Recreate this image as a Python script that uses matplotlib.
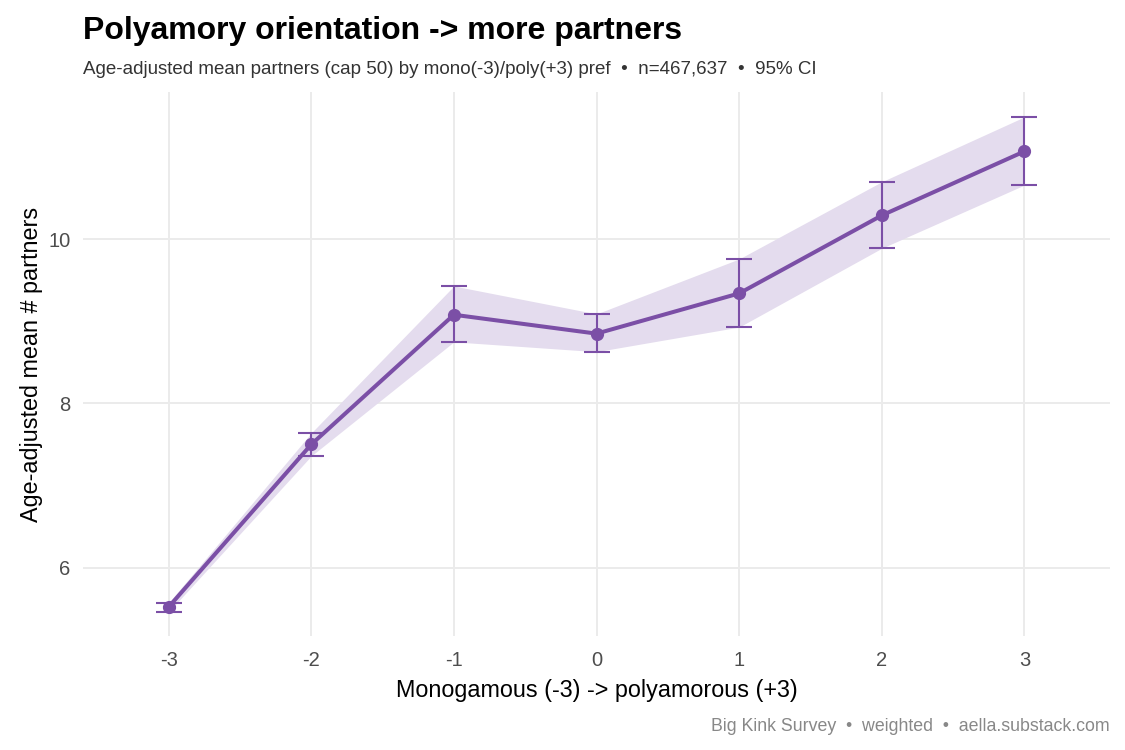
import matplotlib
matplotlib.use("Agg")
import matplotlib.pyplot as plt

plt.rcParams['font.family'] = ['Liberation Sans', 'DejaVu Sans']

pref = [-3, -2, -1, 0, 1, 2, 3]
mean_partners = [5.52, 7.50, 9.08, 8.85, 9.34, 10.29, 11.07]
ci_low = [5.46, 7.36, 8.75, 8.63, 8.93, 9.89, 10.66]
ci_high = [5.57, 7.64, 9.43, 9.09, 9.76, 10.70, 11.49]
yticks = [6, 8, 10]

purple = '#7B4FA6'
fig = plt.figure(figsize=(11.25, 7.5), dpi=100)
ax = fig.add_axes([0.0738, 0.152, 0.9129, 0.725])

ax.fill_between(pref, ci_low, ci_high, color='#E4DCEE', linewidth=0, zorder=1)
yerr = [[m - l for m, l in zip(mean_partners, ci_low)],
        [h - m for m, h in zip(mean_partners, ci_high)]]
ax.errorbar(pref, mean_partners, yerr=yerr, fmt='none', ecolor=purple,
            elinewidth=1.5, capsize=9.5, capthick=1.5, zorder=2)
ax.plot(pref, mean_partners, color=purple, linewidth=2.9, marker='o',
        markersize=8.5, zorder=3)

ax.set_xlim(-3.6, 3.6)
ax.set_ylim(5.167, 11.79)
ax.set_xticks(pref)
ax.set_xticklabels([str(p) for p in pref])
ax.set_yticks(yticks)
ax.grid(True, color='#EBEBEB', linewidth=1.4)
ax.set_axisbelow(True)
for s in ax.spines.values():
    s.set_visible(False)
ax.tick_params(length=0, labelsize=14.5, labelcolor='#4D4D4D')
ax.tick_params(axis='x', pad=11)
ax.tick_params(axis='y', pad=9)

ax.set_xlabel('Monogamous (-3) -> polyamorous (+3)', fontsize=16.8, color='black', labelpad=6)
ax.set_ylabel('Age-adjusted mean # partners', fontsize=16.8, color='black', labelpad=4)

fig.text(0.0738, 0.959, 'Polyamory orientation -> more partners', fontsize=23,
         fontweight='bold', ha='left', va='center')
fig.text(0.0738, 0.907, 'Age-adjusted mean partners (cap 50) by mono(-3)/poly(+3) pref  \u2022  n=467,637  \u2022  95% CI',
         fontsize=13.5, color='#333333', ha='left', va='center')
fig.text(0.9867, 0.031, 'Big Kink Survey  \u2022  weighted  \u2022  aella.substack.com',
         fontsize=12.8, color='#888888', ha='right', va='center')

fig.savefig('out.png', dpi=100)
